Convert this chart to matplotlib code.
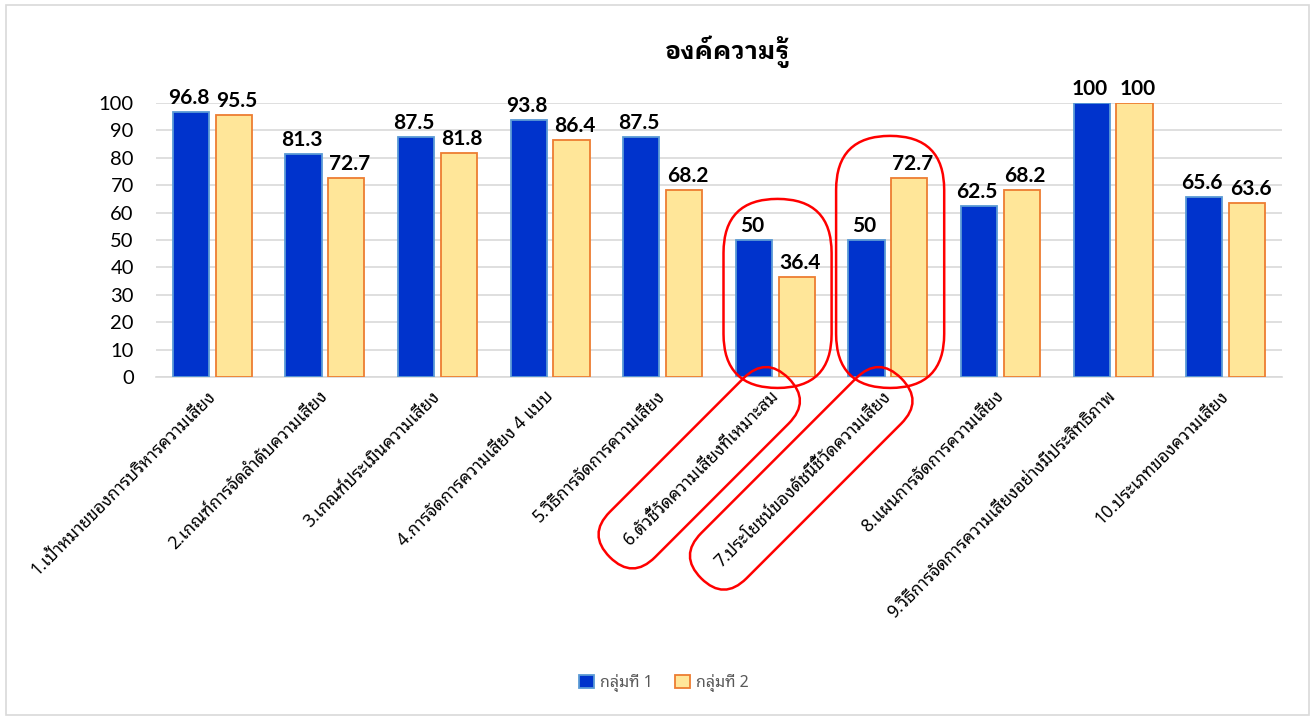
import matplotlib
matplotlib.use('Agg')
import matplotlib.pyplot as plt
import numpy as np
from matplotlib.patches import FancyBboxPatch, Rectangle
from matplotlib.transforms import Affine2D, IdentityTransform

categories = [
    '1.เป้าหมายของการบริหารความเสี่ยง',
    '2.เกณฑ์การจัดลำดับความเสี่ยง',
    '3.เกณฑ์ประเมินความเสี่ยง',
    '4.การจัดการความเสี่ยง 4 แบบ',
    '5.วิธีการจัดการความเสี่ยง',
    '6.ตัวชี้วัดความเสี่ยงที่เหมาะสม',
    '7.ประโยชน์ของดัชนีชี้วัดความเสี่ยง',
    '8.แผนการจัดการความเสี่ยง',
    '9.วิธีการจัดการความเสี่ยงอย่างมีประสิทธิภาพ',
    '10.ประเภทของความเสี่ยง',
]
group1 = [96.8, 81.3, 87.5, 93.8, 87.5, 50, 50, 62.5, 100, 65.6]
group2 = [95.5, 72.7, 81.8, 86.4, 68.2, 36.4, 72.7, 68.2, 100, 63.6]
series_names = ['กลุ่มที่ 1', 'กลุ่มที่ 2']
title = 'องค์ความรู้'
highlight = [5, 6]   # groups circled in red

thai = ['Noto Sans Thai Looped', 'DejaVu Sans']
thai_bold = ['IBM Plex Sans Thai Looped', 'Noto Sans Thai Looped', 'DejaVu Sans']
num_font = ['Lato', 'DejaVu Sans']

fig = plt.figure(figsize=(13.16, 7.2), dpi=100)
ax = fig.add_axes([156 / 1316, 1 - 377 / 720, 1126 / 1316, 274 / 720])

x = np.arange(len(categories))
w = 0.32
off = 0.19
b1 = ax.bar(x - off, group1, w, color='#0033CC', edgecolor='#5B9BD5', linewidth=1.3, zorder=3)
b2 = ax.bar(x + off, group2, w, color='#FFE699', edgecolor='#ED7D31', linewidth=1.3, zorder=3)

for bars, vals, dx in [(b1, group1, -1.5), (b2, group2, 2.5)]:
    for r, v in zip(bars, vals):
        ax.annotate('%g' % v, (r.get_x() + r.get_width() / 2, v), xytext=(dx, 3),
                    textcoords='offset points', ha='center', va='bottom',
                    fontsize=15, fontweight='bold', family=num_font, clip_on=False)

ax.set_xlim(-0.5, len(categories) - 0.5)
ax.set_ylim(0, 100)
ax.set_yticks(range(0, 101, 10))
ax.yaxis.grid(True, color='#d9d9d9', linewidth=1.2, zorder=0)
ax.set_axisbelow(True)
for s in ['left', 'right', 'top']:
    ax.spines[s].set_visible(False)
ax.spines['bottom'].set_color('#d9d9d9')
ax.spines['bottom'].set_linewidth(1.2)
ax.tick_params(axis='both', length=0)
ax.tick_params(axis='y', pad=16)
for t in ax.get_yticklabels():
    t.set_family(num_font)
    t.set_fontsize(14.5)

ax.set_xticks(x)
ax.set_xticklabels(categories, rotation=45, ha='right', va='center',
                   rotation_mode='anchor', family=thai, fontsize=12.5)
ax.tick_params(axis='x', pad=12)

fig.text(727 / 1316, 1 - 52 / 720, title, ha='center', va='center',
         fontsize=18, fontweight='bold', family=thai_bold)

h1 = Rectangle((0, 0), 1, 1, facecolor='#0033CC', edgecolor='#5B9BD5', linewidth=1.3)
h2 = Rectangle((0, 0), 1, 1, facecolor='#FFE699', edgecolor='#ED7D31', linewidth=1.3)
leg = fig.legend([h1, h2], series_names, loc='center', bbox_to_anchor=(664 / 1316, 1 - 683 / 720),
                 ncol=2, frameon=False, prop={'family': thai, 'size': 11.5},
                 handlelength=0.9, handleheight=0.9, columnspacing=1.4, handletextpad=0.4)
for t in leg.get_texts():
    t.set_color('#595959')

# outer chart frame
fig.add_artist(Rectangle((6 / 1316, 5 / 720), 1303 / 1316, 710 / 720, transform=fig.transFigure,
                         fill=False, edgecolor='#d9d9d9', linewidth=1.2))

# red hand-drawn highlights around bars and labels
fig.canvas.draw()
renderer = fig.canvas.get_renderer()
red = '#FF0000'
tops = {5: 65, 6: 88}
for i in highlight:
    (x0, y0) = ax.transData.transform((i - 0.46, -4))
    (x1, y1) = ax.transData.transform((i + 0.5, tops[i]))
    r = (x1 - x0) / 2
    p = FancyBboxPatch((x0, y0), x1 - x0, y1 - y0,
                       boxstyle='round,pad=0,rounding_size=%f' % r,
                       transform=IdentityTransform(), fill=False, edgecolor=red, linewidth=1.8)
    fig.add_artist(p)

    lab = ax.get_xticklabels()[i]
    tw = lab.get_window_extent(renderer)
    L = (tw.width + tw.height) / np.sqrt(2)
    thick = 64
    along_pad = 14
    ux, uy = tw.x1 - 10, tw.y1 - 8
    ring = FancyBboxPatch((-L - along_pad + 14, -thick / 2), L + 2 * along_pad - 4, thick,
                          boxstyle='round,pad=0,rounding_size=%f' % (thick / 2),
                          fill=False, edgecolor=red, linewidth=1.8)
    ring.set_transform(Affine2D().rotate_deg(45).translate(ux, uy))
    fig.add_artist(ring)

fig.savefig('out.png', dpi=100)
